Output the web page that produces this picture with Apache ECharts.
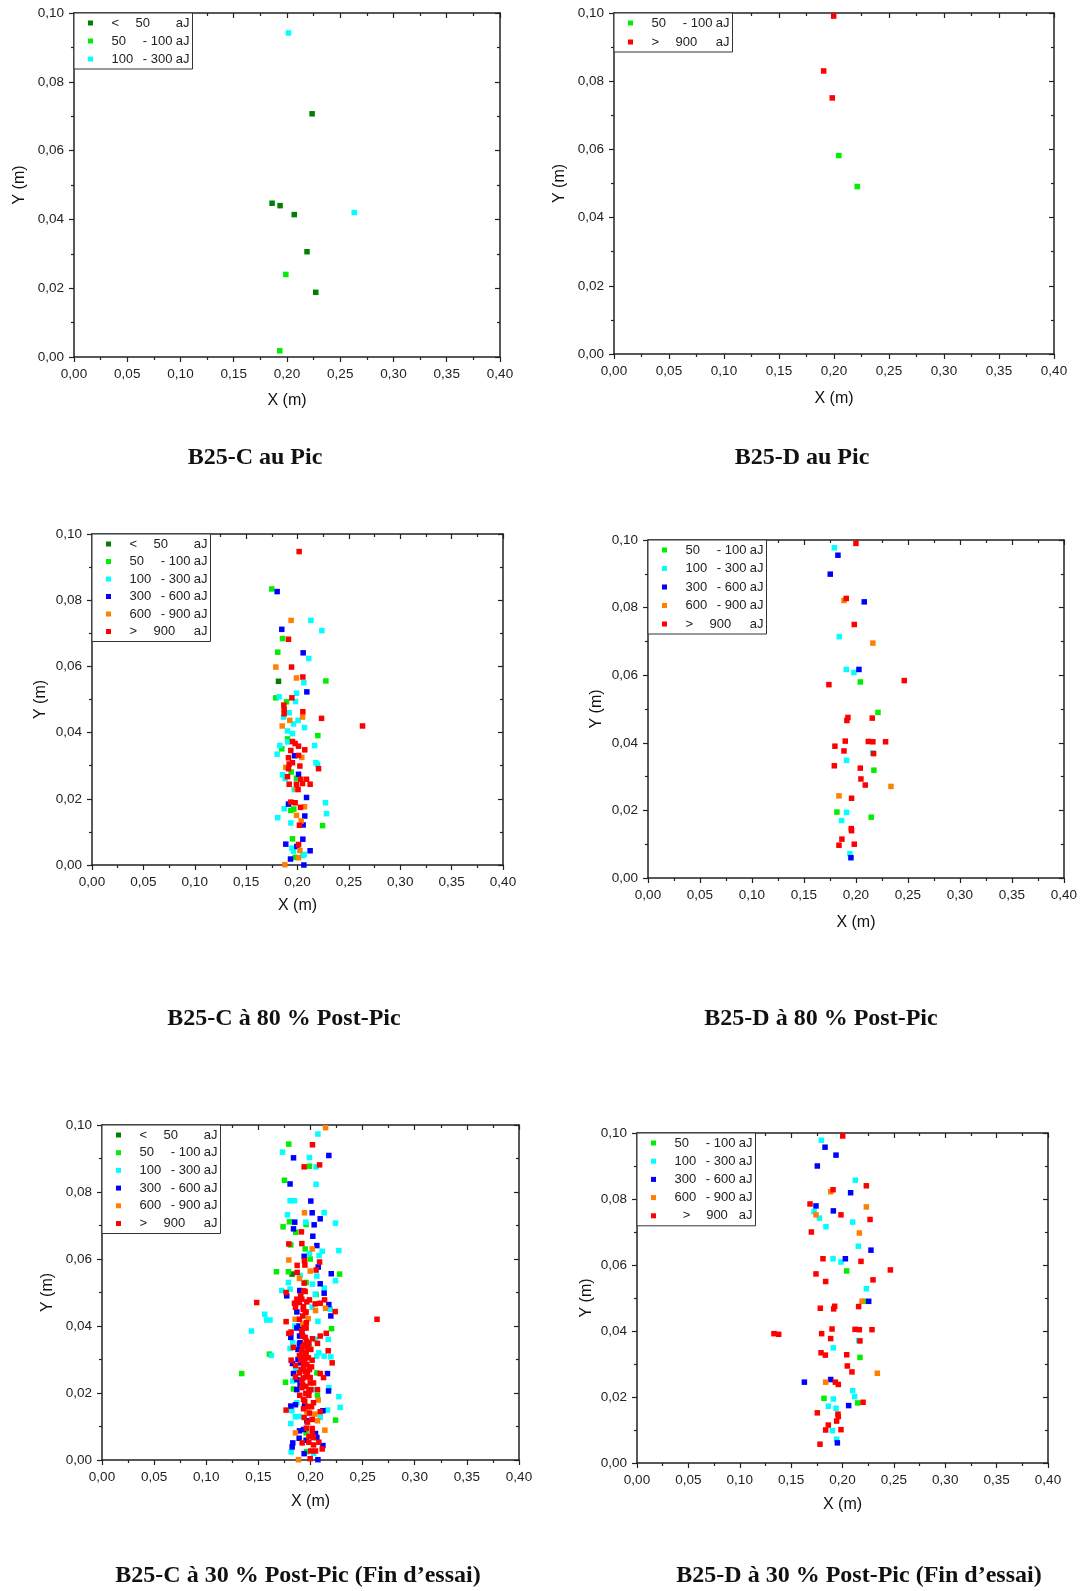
<!DOCTYPE html>
<html>
<head>
<meta charset="utf-8">
<script src="https://cdn.jsdelivr.net/npm/echarts@6/dist/echarts.min.js"></script>
<style>
html,body{margin:0;padding:0;background:#fff}
#main{width:1080px;height:1591px}
</style>
</head>
<body>
<div id="main"></div>
<script>
// B25-C au Pic
var cPic_lt50 = [[0.186,0.0447],[0.1935,0.0440],[0.2068,0.0414],[0.2236,0.0707],[0.2188,0.0306],[0.2270,0.0188]];
var cPic_50_100 = [[0.1989,0.0240],[0.1932,0.0018]];
var cPic_100_300 = [[0.2014,0.0942],[0.2631,0.0420]];

// B25-D au Pic
var dPic_50_100 = [[0.2044,0.0582],[0.2211,0.0491]];
var dPic_gt900 = [[0.1997,0.0991],[0.1906,0.0830],[0.1984,0.0751]];

// B25-C 80 %
var c80_lt50 = [[0.1815,0.0555]];
var c80_50_100 = [[0.175,0.0834],[0.1854,0.0684],[0.1808,0.0643],[0.2276,0.0556],[0.1789,0.0505],[0.1893,0.0493],[0.2198,0.0391],[0.1903,0.0381],[0.1847,0.0351],[0.1938,0.0281],[0.1990,0.0262],[0.1935,0.0165],[0.1964,0.0169],[0.2244,0.0119],[0.1951,0.0079],[0.1977,0.0023]];
var c80_100_300 = [[0.2130,0.0739],[0.2237,0.0708],[0.2110,0.0624],[0.2062,0.0551],[0.1990,0.0519],[0.1821,0.0508],[0.1981,0.0494],[0.1919,0.0460],[0.1864,0.0447],[0.2006,0.0437],[0.1961,0.0426],[0.2068,0.0415],[0.1903,0.0405],[0.1951,0.0397],[0.1906,0.0372],[0.1828,0.0361],[0.2166,0.0361],[0.1802,0.0335],[0.2179,0.0309],[0.2195,0.0304],[0.1854,0.0273],[0.1880,0.0261],[0.1968,0.0228],[0.2273,0.0188],[0.1870,0.0170],[0.2282,0.0155],[0.1808,0.0143],[0.1935,0.0127],[0.1945,0.0051],[0.1961,0.0042],[0.2065,0.0032],[0.2049,0.0028]];
var c80_300_600 = [[0.1802,0.0826],[0.1847,0.0712],[0.2055,0.0641],[0.2091,0.0523],[0.1971,0.0330],[0.2010,0.0274],[0.2088,0.0204],[0.1912,0.0184],[0.2071,0.0148],[0.2055,0.0121],[0.2052,0.0078],[0.1886,0.0063],[0.1994,0.0056],[0.2123,0.0043],[0.1932,0.0018],[0.2062,0.0000]];
var c80_600_900 = [[0.1938,0.0739],[0.1789,0.0598],[0.1990,0.0565],[0.1925,0.0437],[0.2049,0.0447],[0.1851,0.0420],[0.2042,0.0325],[0.1886,0.0295],[0.1990,0.0230],[0.2068,0.0176],[0.1990,0.0150],[0.2036,0.0133],[0.2023,0.0044],[0.2010,0.0022],[0.1877,0.0001]];
var c80_gt900 = [[0.2016,0.0947],[0.1912,0.0682],[0.1942,0.0598],[0.2052,0.0568],[0.1945,0.0505],[0.1867,0.0483],[0.1870,0.0470],[0.1870,0.0457],[0.2052,0.0463],[0.2234,0.0443],[0.2633,0.0420],[0.1951,0.0373],[0.1977,0.0367],[0.2010,0.0359],[0.1935,0.0346],[0.2071,0.0348],[0.2010,0.0331],[0.1912,0.0324],[0.1951,0.0309],[0.1919,0.0305],[0.2205,0.0291],[0.2023,0.0299],[0.1912,0.0291],[0.1903,0.0267],[0.2032,0.0259],[0.2088,0.0259],[0.1919,0.0244],[0.1990,0.0244],[0.2049,0.0246],[0.2123,0.0244],[0.2006,0.0228],[0.1935,0.0190],[0.1977,0.0188],[0.2029,0.0174],[0.2019,0.0120],[0.2010,0.0062]];

// B25-D 80 %
var d80_50_100 = [[0.2042,0.0580],[0.2212,0.0490],[0.2173,0.0319],[0.1817,0.0195],[0.2147,0.0180]];
var d80_100_300 = [[0.1792,0.0977],[0.1840,0.0714],[0.1907,0.0617],[0.1981,0.0608],[0.2160,0.0370],[0.1910,0.0348],[0.1910,0.0194],[0.1862,0.0170],[0.1942,0.0072]];
var d80_300_600 = [[0.1827,0.0955],[0.1753,0.0899],[0.2080,0.0817],[0.2029,0.0617],[0.1952,0.0060]];
var d80_600_900 = [[0.1885,0.0821],[0.2163,0.0695],[0.2337,0.0271],[0.1837,0.0243]];
var d80_gt900 = [[0.2000,0.0990],[0.1907,0.0827],[0.1984,0.0750],[0.1740,0.0572],[0.2465,0.0584],[0.2157,0.0473],[0.1923,0.0475],[0.1913,0.0466],[0.1897,0.0405],[0.2119,0.0404],[0.2163,0.0403],[0.2285,0.0403],[0.1798,0.0390],[0.1885,0.0376],[0.2170,0.0368],[0.1792,0.0332],[0.2042,0.0325],[0.2048,0.0293],[0.2090,0.0275],[0.1958,0.0236],[0.1955,0.0146],[0.1958,0.0140],[0.1865,0.0115],[0.1837,0.0097],[0.1984,0.0100]];

// B25-C 30 %
var c30_lt50 = [[0.1824,0.0555]];
var c30_50_100 = [[0.1792,0.0943],[0.1990,0.0877],[0.1750,0.0835],[0.1798,0.0711],[0.1958,0.0703],[0.1737,0.0696],[0.1859,0.0680],[0.1811,0.0642],[0.1949,0.0630],[0.1997,0.0600],[0.1673,0.0562],[0.1788,0.0562],[0.2279,0.0555],[0.1958,0.0530],[0.2054,0.0494],[0.1907,0.0488],[0.2202,0.0392],[0.1990,0.0336],[0.1606,0.0316],[0.2061,0.0260],[0.1340,0.0258],[0.1760,0.0232],[0.1837,0.0212],[0.2067,0.0193],[0.2240,0.0119],[0.1958,0.0081],[0.1962,0.0025]];
var c30_100_300 = [[0.2071,0.0973],[0.1731,0.0919],[0.1990,0.0903],[0.2054,0.0875],[0.2054,0.0823],[0.1804,0.0774],[0.1846,0.0774],[0.2131,0.0738],[0.1779,0.0732],[0.1955,0.0710],[0.2240,0.0707],[0.2112,0.0623],[0.2272,0.0625],[0.1990,0.0616],[0.2083,0.0610],[0.2061,0.0549],[0.1901,0.0551],[0.1788,0.0530],[0.2240,0.0535],[0.2019,0.0525],[0.2131,0.0513],[0.1724,0.0506],[0.1804,0.0510],[0.2045,0.0495],[0.2016,0.0456],[0.2189,0.0450],[0.1561,0.0435],[0.1580,0.0418],[0.1612,0.0418],[0.2071,0.0414],[0.1433,0.0385],[0.2170,0.0360],[0.1804,0.0333],[0.2080,0.0320],[0.1625,0.0312],[0.2131,0.0310],[0.2195,0.0308],[0.1830,0.0236],[0.2176,0.0216],[0.2272,0.0189],[0.1869,0.0171],[0.1821,0.0147],[0.2285,0.0157],[0.2163,0.0149],[0.1856,0.0129],[0.2093,0.0127],[0.1811,0.0109],[0.1814,0.0024],[0.1850,0.0400],[0.1830,0.0350],[0.2060,0.0310],[0.2050,0.0360],[0.1860,0.0270],[0.2020,0.0210],[0.1890,0.0130],[0.2030,0.0020]];
var c30_300_600 = [[0.2176,0.0909],[0.1837,0.0902],[0.1804,0.0824],[0.2003,0.0773],[0.2016,0.0738],[0.2093,0.0720],[0.1849,0.0710],[0.2035,0.0702],[0.1837,0.0690],[0.2022,0.0668],[0.2061,0.0640],[0.1939,0.0608],[0.2074,0.0576],[0.2199,0.0556],[0.2093,0.0526],[0.1897,0.0506],[0.2131,0.0498],[0.1772,0.0490],[0.2176,0.0464],[0.1869,0.0442],[0.2195,0.0430],[0.1869,0.0394],[0.1917,0.0380],[0.1811,0.0366],[0.1894,0.0346],[0.1827,0.0288],[0.1837,0.0258],[0.2163,0.0258],[0.1869,0.0210],[0.2173,0.0206],[0.1811,0.0161],[0.1856,0.0165],[0.1942,0.0159],[0.2119,0.0147],[0.1965,0.0117],[0.1933,0.0091],[0.1894,0.0087],[0.2048,0.0079],[0.1891,0.0065],[0.2061,0.0067],[0.1958,0.0059],[0.1830,0.0051],[0.1824,0.0039],[0.2119,0.0043],[0.1939,0.0019],[0.2071,0.0001],[0.1890,0.0400],[0.1895,0.0370],[0.1900,0.0350],[0.1880,0.0330],[0.1905,0.0290],[0.1880,0.0300],[0.1900,0.0225],[0.1870,0.0240]];
var c30_600_900 = [[0.2144,0.0992],[0.1942,0.0738],[0.2016,0.0630],[0.1792,0.0597],[0.1997,0.0564],[0.1894,0.0542],[0.2144,0.0453],[0.2048,0.0446],[0.1978,0.0422],[0.1853,0.0420],[0.1926,0.0406],[0.2074,0.0179],[0.1965,0.0144],[0.2042,0.0137],[0.2067,0.0117],[0.2138,0.0089],[0.1856,0.0081],[0.1885,0.0001]];
var c30_gt900 = [[0.2019,0.0941],[0.1939,0.0875],[0.2087,0.0881],[0.1913,0.0681],[0.1792,0.0645],[0.1917,0.0646],[0.1942,0.0595],[0.2087,0.0591],[0.1946,0.0582],[0.1872,0.0581],[0.2054,0.0567],[0.1872,0.0560],[0.1939,0.0528],[0.1766,0.0500],[0.1949,0.0503],[0.1869,0.0480],[0.1917,0.0480],[0.1990,0.0478],[0.2135,0.0478],[0.1484,0.0470],[0.1846,0.0468],[0.1894,0.0470],[0.1965,0.0472],[0.2045,0.0466],[0.2093,0.0468],[0.1856,0.0456],[0.1933,0.0458],[0.2237,0.0443],[0.1958,0.0442],[0.1926,0.0430],[0.1894,0.0420],[0.1766,0.0413],[0.2638,0.0420],[0.1958,0.0394],[0.1792,0.0378],[0.1814,0.0382],[0.2151,0.0378],[0.1949,0.0366],[0.2019,0.0362],[0.2093,0.0370],[0.2067,0.0348],[0.1836,0.0336],[0.1926,0.0338],[0.2003,0.0330],[0.2170,0.0326],[0.1917,0.0326],[0.1958,0.0320],[0.1894,0.0312],[0.1949,0.0308],[0.2016,0.0298],[0.1814,0.0298],[0.1907,0.0298],[0.2208,0.0290],[0.1856,0.0282],[0.1933,0.0278],[0.2010,0.0278],[0.1894,0.0260],[0.2093,0.0258],[0.1856,0.0248],[0.1958,0.0248],[0.1997,0.0246],[0.2125,0.0246],[0.1917,0.0238],[0.1997,0.0230],[0.2029,0.0230],[0.1917,0.0216],[0.2003,0.0210],[0.2067,0.0210],[0.1955,0.0199],[0.1897,0.0193],[0.1984,0.0193],[0.1933,0.0181],[0.2029,0.0171],[0.1766,0.0149],[0.1933,0.0153],[0.2010,0.0159],[0.2093,0.0144],[0.1939,0.0127],[0.2016,0.0121],[0.1971,0.0113],[0.2016,0.0094],[0.2016,0.0079],[0.2029,0.0067],[0.1920,0.0051],[0.1984,0.0053],[0.2080,0.0053],[0.2029,0.0045],[0.2112,0.0033],[0.2003,0.0027],[0.2048,0.0027],[0.1997,0.0004],[0.1930,0.0450],[0.1950,0.0440],[0.1960,0.0410],[0.1940,0.0395],[0.1925,0.0370],[0.1960,0.0355],[0.1940,0.0345],[0.1985,0.0350],[0.1975,0.0335],[0.1920,0.0310],[0.1945,0.0300],[0.1980,0.0305],[0.1935,0.0290],[0.1965,0.0285],[0.1910,0.0270],[0.1950,0.0265],[0.1990,0.0270],[0.1970,0.0255],[0.1930,0.0245],[0.1925,0.0225],[0.1955,0.0220],[0.1985,0.0205],[0.1945,0.0175],[0.1975,0.0160],[0.1990,0.0140],[0.1960,0.0095],[0.1985,0.0070],[0.1905,0.0490],[0.1935,0.0505],[0.1915,0.0385]];

// B25-D 30 %
var d30_50_100 = [[0.2041,0.0582],[0.2209,0.0490],[0.2170,0.0320],[0.1820,0.0196],[0.2148,0.0182]];
var d30_100_300 = [[0.1794,0.0978],[0.2125,0.0857],[0.1723,0.0762],[0.1775,0.0742],[0.2099,0.0730],[0.1839,0.0716],[0.2154,0.0657],[0.1908,0.0619],[0.1985,0.0609],[0.2232,0.0528],[0.2157,0.0371],[0.1911,0.0349],[0.2099,0.0219],[0.2118,0.0201],[0.1911,0.0194],[0.1862,0.0172],[0.1937,0.0166],[0.1901,0.0098],[0.1943,0.0072]];
var d30_300_600 = [[0.1830,0.0957],[0.1937,0.0933],[0.1755,0.0900],[0.2079,0.0819],[0.1742,0.0779],[0.1911,0.0764],[0.2277,0.0645],[0.2028,0.0619],[0.2255,0.0490],[0.1629,0.0245],[0.1885,0.0253],[0.2060,0.0174],[0.1950,0.0061]];
var d30_600_900 = [[0.1885,0.0822],[0.2232,0.0776],[0.1742,0.0752],[0.2164,0.0697],[0.2190,0.0490],[0.2339,0.0272],[0.1836,0.0245]];
var d30_gt900 = [[0.2002,0.0991],[0.2232,0.0840],[0.1908,0.0828],[0.1684,0.0785],[0.1985,0.0752],[0.2268,0.0738],[0.1697,0.0700],[0.1810,0.0619],[0.2180,0.0611],[0.2466,0.0585],[0.1742,0.0573],[0.1836,0.0550],[0.2297,0.0555],[0.1784,0.0469],[0.1924,0.0475],[0.1914,0.0467],[0.2157,0.0474],[0.1333,0.0392],[0.1379,0.0390],[0.1797,0.0392],[0.1898,0.0406],[0.2122,0.0405],[0.2164,0.0404],[0.2287,0.0404],[0.1885,0.0377],[0.2170,0.0370],[0.1791,0.0334],[0.1833,0.0327],[0.2041,0.0328],[0.2047,0.0294],[0.2092,0.0276],[0.1930,0.0245],[0.1959,0.0238],[0.2200,0.0184],[0.1755,0.0152],[0.1956,0.0148],[0.1959,0.0141],[0.1943,0.0127],[0.1862,0.0115],[0.1836,0.0100],[0.1985,0.0101],[0.1781,0.0057]];

// energy classes, legend text
var classColors = {lt50:'#007f00', r50:'#00ee00', r100:'#00ffff', r300:'#0000ff', r600:'#ff8000', gt900:'#ff0000'};
var legendLabels = {
    lt50: '{s| }{a|<}{bl|50}{c|aJ}',
    r50: '{s| }{a|50}{b|- 100}{c|aJ}',
    r100: '{s| }{a|100}{b|- 300}{c|aJ}',
    r300: '{s| }{a|300}{b|- 600}{c|aJ}',
    r600: '{s| }{a|600}{b|- 900}{c|aJ}',
    gt900: '{s| }{a|>}{bl|900}{c|aJ}',
    gt900b: '{s| }{am|>}{bl|900}{c|aJ}'
};
var xTicks = {min:0, max:0.4, interval:0.05};
var yTicks = {min:0, max:0.1, interval:0.02};

var panels = [
    {title:'B25-C au Pic', tx:255, ty:458, grid:{left:74, top:13, width:426, height:344}, xGap:36, yGap:46, gap:4,
        classes:[['lt50',cPic_lt50],['r50',cPic_50_100],['r100',cPic_100_300]]},
    {title:'B25-D au Pic', tx:802, ty:458, grid:{left:614, top:13, width:440, height:341}, xGap:37, yGap:46, gap:5,
        classes:[['r50',dPic_50_100],['gt900',dPic_gt900]]},
    {title:'B25-C à 80 % Post-Pic', tx:284, ty:1019, grid:{left:92, top:534, width:411, height:331}, xGap:33, yGap:43, gap:3.5,
        classes:[['lt50',c80_lt50],['r50',c80_50_100],['r100',c80_100_300],['r300',c80_300_600],['r600',c80_600_900],['gt900',c80_gt900]]},
    {title:'B25-D à 80 % Post-Pic', tx:821, ty:1019, grid:{left:648, top:540, width:416, height:338}, xGap:37, yGap:43, gap:4.5,
        classes:[['r50',d80_50_100],['r100',d80_100_300],['r300',d80_300_600],['r600',d80_600_900],['gt900',d80_gt900]]},
    {title:'B25-C à 30 % Post-Pic (Fin d’essai)', tx:298, ty:1576, grid:{left:102, top:1125, width:417, height:335}, xGap:34, yGap:46, gap:3.7,
        classes:[['lt50',c30_lt50],['r50',c30_50_100],['r100',c30_100_300],['r300',c30_300_600],['r600',c30_600_900],['gt900',c30_gt900]]},
    {title:'B25-D à 30 % Post-Pic (Fin d’essai)', tx:859, ty:1576, grid:{left:637, top:1133, width:411, height:330}, xGap:34, yGap:42, gap:4.2,
        classes:[['r50',d30_50_100],['r100',d30_100_300],['r300',d30_300_600],['r600',d30_600_900],['gt900b',d30_gt900]]}
];

var FONT = '"Liberation Sans", Arial, sans-serif';
var AXIS_COLOR = '#222';

function fmt(v) {
    return v.toFixed(2).replace('.', ',');
}

function baseAxis(i, range, pos, labels) {
    return {
        gridIndex: i, type: 'value', position: pos,
        min: range.min, max: range.max, interval: range.interval,
        axisLine: {show: true, onZero: false, lineStyle: {color: AXIS_COLOR, width: 1.5}},
        axisTick: {show: true, inside: !labels, length: 5, lineStyle: {color: AXIS_COLOR, width: 1.2}},
        minorTick: {show: true, splitNumber: 2, length: 3, lineStyle: {color: AXIS_COLOR, width: 1.2}},
        splitLine: {show: false},
        axisLabel: {show: labels, formatter: fmt, margin: 10, fontSize: 13.5, color: AXIS_COLOR, fontFamily: FONT}
    };
}

var rich = {
    s: {width: 13.5, fontSize: 13, fontFamily: FONT},
    a: {width: 24, align: 'left', fontSize: 13, fontFamily: FONT, color: '#222'},
    am: {width: 24, align: 'center', fontSize: 13, fontFamily: FONT, color: '#222'},
    b: {width: 37, align: 'right', fontSize: 13, fontFamily: FONT, color: '#222'},
    bl: {width: 37, align: 'left', fontSize: 13, fontFamily: FONT, color: '#222'},
    c: {width: 17, align: 'right', fontSize: 13, fontFamily: FONT, color: '#222'}
};

var option = {
    backgroundColor: '#fff',
    animation: false,
    grid: [], xAxis: [], yAxis: [], series: [], legend: [], graphic: []
};

panels.forEach(function (p, i) {
    var g = p.grid;
    option.grid.push({left: g.left, top: g.top, width: g.width, height: g.height, containLabel: false});

    var xb = baseAxis(i, xTicks, 'bottom', true);
    xb.name = 'X (m)'; xb.nameLocation = 'middle'; xb.nameGap = p.xGap;
    xb.nameTextStyle = {fontSize: 16, color: '#111', fontFamily: FONT};
    option.xAxis.push(xb);
    option.xAxis.push(baseAxis(i, xTicks, 'top', false));

    var yl = baseAxis(i, yTicks, 'left', true);
    yl.name = 'Y (m)'; yl.nameLocation = 'middle'; yl.nameGap = p.yGap;
    yl.nameTextStyle = {fontSize: 16, color: '#111', fontFamily: FONT};
    option.yAxis.push(yl);
    option.yAxis.push(baseAxis(i, yTicks, 'right', false));

    var names = [];
    p.classes.forEach(function (c) {
        var cls = c[0].replace(/b$/, '');
        var name = 'p' + i + '|' + c[0];
        names.push(name);
        option.series.push({
            name: name, type: 'scatter',
            xAxisIndex: i * 2, yAxisIndex: i * 2,
            symbol: 'rect', symbolSize: 5.5,
            itemStyle: {color: classColors[cls], opacity: 1},
            data: c[1]
        });
    });

    option.legend.push({
        orient: 'vertical', left: g.left, top: g.top,
        padding: [3, 3, 3, 14], itemGap: p.gap,
        itemWidth: 5, itemHeight: 5, icon: 'rect',
        borderColor: '#333', borderWidth: 1, backgroundColor: '#fff',
        selectedMode: false,
        data: names,
        formatter: function (name) {
            return legendLabels[name.split('|')[1]];
        },
        textStyle: {fontSize: 13, lineHeight: 14, fontFamily: FONT, color: '#222', rich: rich}
    });

    option.graphic.push({
        type: 'text', x: p.tx, y: p.ty,
        style: {
            text: p.title, font: 'bold 24px "Liberation Serif", serif', fill: '#111',
            textAlign: 'center', textVerticalAlign: 'middle'
        }
    });
});

var chart = echarts.init(document.getElementById('main'));
chart.setOption(option);
</script>
</body>
</html>
